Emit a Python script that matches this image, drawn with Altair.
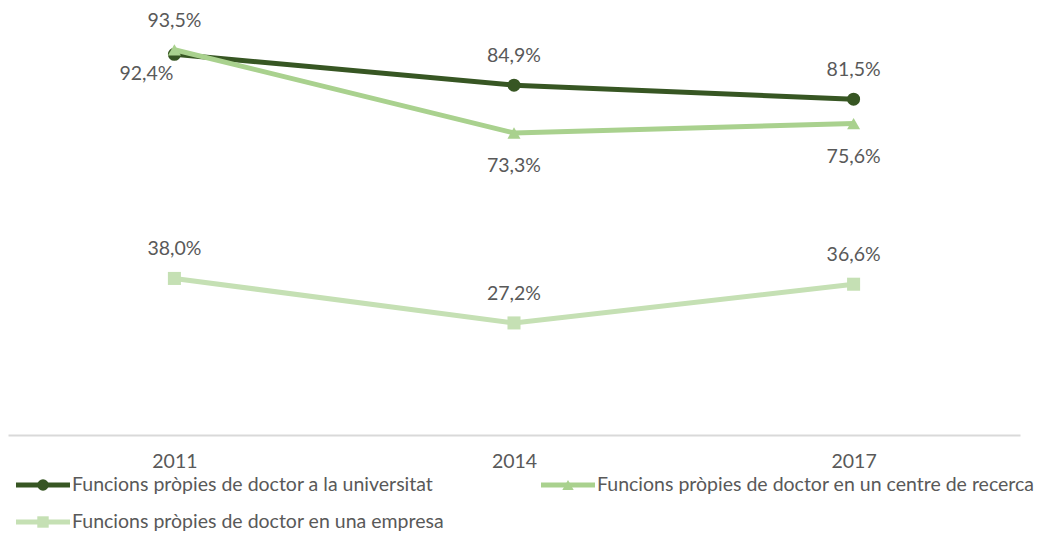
import altair as alt
import pandas as pd

years = ["2011", "2014", "2017"]
series = [
    "Funcions pròpies de doctor a la universitat",
    "Funcions pròpies de doctor en un centre de recerca",
    "Funcions pròpies de doctor en una empresa",
]
uni = [92.4, 84.9, 81.5]
rec = [93.5, 73.3, 75.6]
emp = [38.0, 27.2, 36.6]
pos_uni = ["left", "above", "above"]
pos_rec = ["above", "below", "below"]
pos_emp = ["above", "above", "above"]
colors = ["#375623", "#A9D18E", "#C5E0B4"]
shapes = ["circle", "triangle-up", "square"]

FONT = "Lato"
FS = 19.5
TXT = "#595959"

rows = []
for si, (vals, poss) in enumerate([(uni, pos_uni), (rec, pos_rec), (emp, pos_emp)]):
    for y, v, p in zip(years, vals, poss):
        rows.append({"year": y, "value": v, "series": series[si], "order": si,
                     "pos": p, "label": f"{v:.1f}%".replace(".", ",")})
df = pd.DataFrame(rows)

x = alt.X("year:N", sort=years, title=None,
          scale=alt.Scale(type="point", padding=0.49),
          axis=alt.Axis(domainColor="#D9D9D9", domainWidth=2, ticks=False,
                        labelPadding=17, labelColor=TXT, labelFontSize=FS,
                        labelFont=FONT, labelAngle=0, grid=False))
y = alt.Y("value:Q", scale=alt.Scale(domain=[0, 100]), axis=None)
color = alt.Color("series:N", scale=alt.Scale(domain=series, range=colors), legend=None)
shape = alt.Shape("series:N", scale=alt.Scale(domain=series, range=shapes), legend=None)

base = alt.Chart(df)
layers = []
for s in series:
    sub = base.transform_filter(alt.datum.series == s)
    layers.append(sub.mark_line(strokeWidth=5).encode(x=x, y=y, color=color))
    layers.append(sub.mark_point(filled=True, size=170, opacity=1).encode(
        x=x, y=y, color=color, shape=shape))

offsets = {"above": (0, -29), "below": (0, 33), "left": (-28, 20)}
for p, (dx, dy) in offsets.items():
    layers.append(base.transform_filter(alt.datum.pos == p).mark_text(
        dx=dx, dy=dy, font=FONT, fontSize=FS, color=TXT, baseline="middle", align="center"
    ).encode(x=x, y=y, text="label:N"))

# manual legend
leg_items = [(8, 462), (533, 462), (8, 499)]
for i, s in enumerate(series):
    lx, ly = leg_items[i]
    ldf = pd.DataFrame({"s": [s]})
    lb = alt.Chart(ldf)
    layers.append(lb.mark_rule(strokeWidth=5, color=colors[i]).encode(
        x=alt.value(lx), x2=alt.value(lx + 54), y=alt.value(ly)))
    layers.append(lb.mark_point(shape=shapes[i], filled=True, size=130, opacity=1,
                                color=colors[i]).encode(x=alt.value(lx + 27), y=alt.value(ly)))
    layers.append(lb.mark_text(align="left", baseline="middle", font=FONT, fontSize=FS,
                               color=TXT).encode(x=alt.value(lx + 56), y=alt.value(ly), text="s:N"))

chart = alt.layer(*layers).properties(
    width=1012, height=412,
    autosize=alt.AutoSizeParams(type="none"),
    padding={"left": 0, "top": 15, "right": 15, "bottom": 98},
).configure_view(stroke=None)

chart.save("out.html", embed_options={"renderer": "svg", "actions": False})
